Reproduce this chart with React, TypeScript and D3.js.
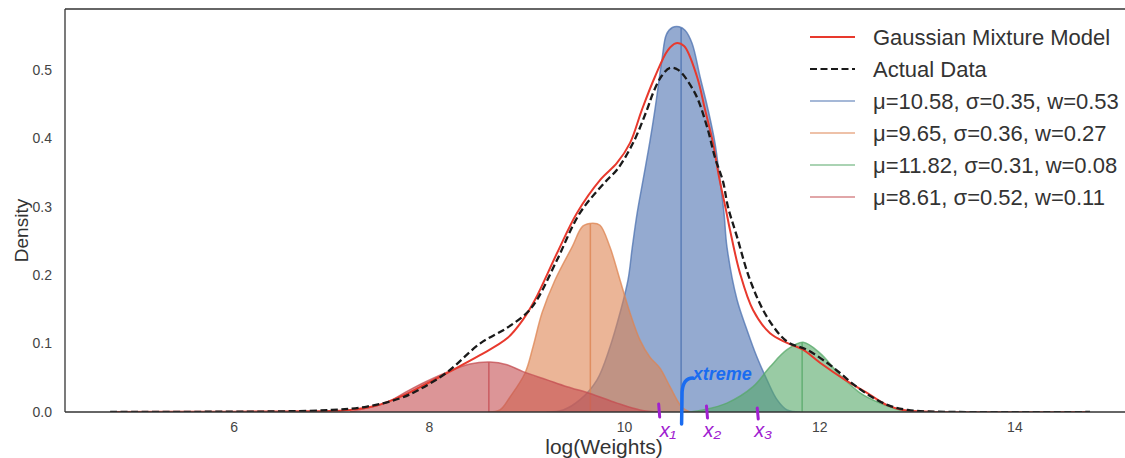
import React from "react";
import * as d3 from "d3";

// ---------- data ----------
const X_TICKS = [6, 8, 10, 12, 14];
const Y_TICKS = [0, 0.1, 0.2, 0.3, 0.4, 0.5];

const COMP_MU = [10.58, 9.65, 11.82, 8.61];
const COMP_SIGMA = [0.35, 0.36, 0.31, 0.52];
const COMP_W = [0.53, 0.27, 0.08, 0.11];
const COMP_COLORS = ["#4C72B0", "#DD8452", "#55A868", "#C44E52"];

// component density curves [logWeight, density]
const BLUE_COMP: [number, number][] = [
  [9.2, 0], [9.37, 0.003], [9.544, 0.018], [9.718, 0.047], [9.851, 0.095], [9.954, 0.145],
  [10.036, 0.193], [10.08, 0.241], [10.13, 0.291], [10.19, 0.339], [10.26, 0.395],
  [10.312, 0.442], [10.384, 0.515], [10.43, 0.552], [10.49, 0.562], [10.56, 0.563],
  [10.62, 0.558], [10.692, 0.539], [10.774, 0.49], [10.856, 0.442], [10.927, 0.393],
  [10.978, 0.339], [11.02, 0.29], [11.05, 0.241], [11.153, 0.164], [11.255, 0.12],
  [11.358, 0.08], [11.46, 0.047], [11.563, 0.018], [11.665, 0.003], [11.8, 0],
];
const ORANGE_COMP: [number, number][] = [
  [8.6, 0], [8.724, 0.003], [8.827, 0.022], [8.981, 0.057], [9.062, 0.095], [9.155, 0.145],
  [9.288, 0.193], [9.462, 0.241], [9.575, 0.272], [9.677, 0.276], [9.749, 0.273],
  [9.851, 0.241], [9.954, 0.193], [10.056, 0.145], [10.159, 0.105], [10.261, 0.08],
  [10.364, 0.064], [10.466, 0.037], [10.589, 0.007], [10.67, 0],
];
const GREEN_COMP: [number, number][] = [
  [10.67, 0], [10.804, 0.003], [11.05, 0.013], [11.317, 0.037], [11.491, 0.066],
  [11.665, 0.091], [11.829, 0.102], [12.003, 0.086], [12.208, 0.054], [12.413, 0.028],
  [12.618, 0.013], [12.823, 0.003], [12.977, 0],
];
const RED_COMP: [number, number][] = [
  [7.188, 0], [7.362, 0.006], [7.55, 0.013], [7.833, 0.035], [8.181, 0.058], [8.416, 0.07],
  [8.622, 0.073], [8.796, 0.069], [8.96, 0.059], [9.206, 0.047], [9.411, 0.037],
  [9.647, 0.027], [9.923, 0.013], [10.159, 0.003], [10.36, 0],
];
const COMP_CURVES = [BLUE_COMP, ORANGE_COMP, GREEN_COMP, RED_COMP];

// total mixture-model density
const GMM_LINE: [number, number][] = [
  [4.73, 0], [6.0, 0.0005], [6.675, 0.001], [7.188, 0.003], [7.45, 0.009], [7.7, 0.022],
  [7.9, 0.036], [8.181, 0.057], [8.519, 0.083], [8.8, 0.108],
  [8.96, 0.135], [9.083, 0.164], [9.308, 0.232], [9.513, 0.291], [9.749, 0.339],
  [9.923, 0.364], [10.056, 0.393], [10.179, 0.442], [10.312, 0.49], [10.445, 0.529],
  [10.528, 0.539], [10.61, 0.535], [10.743, 0.49], [10.825, 0.442], [10.907, 0.393],
  [10.968, 0.344], [11.04, 0.295], [11.081, 0.266], [11.183, 0.203], [11.317, 0.149],
  [11.491, 0.115], [11.665, 0.101], [11.829, 0.091], [12.003, 0.072], [12.26, 0.047],
  [12.485, 0.028], [12.69, 0.01], [12.854, 0.003], [13.13, 0.0005], [14.77, 0],
];
// actual data density
const ACTUAL_LINE: [number, number][] = [
  [4.73, 0], [6.0, 0.0005], [6.5, 0.001], [7.0, 0.003], [7.362, 0.008], [7.7, 0.02],
  [7.9, 0.033], [8.181, 0.058], [8.519, 0.1], [8.796, 0.123], [9.0, 0.145],
  [9.103, 0.164], [9.308, 0.222], [9.544, 0.291], [9.821, 0.339], [9.923, 0.354],
  [10.087, 0.393], [10.231, 0.442], [10.292, 0.466], [10.38, 0.491], [10.466, 0.503],
  [10.55, 0.5], [10.722, 0.466], [10.845, 0.417], [10.927, 0.372], [11.009, 0.337],
  [11.06, 0.3], [11.153, 0.256], [11.286, 0.193], [11.46, 0.139], [11.665, 0.103],
  [11.87, 0.091], [12.075, 0.072], [12.208, 0.057], [12.35, 0.04], [12.5, 0.025],
  [12.7, 0.01], [12.9, 0.003], [13.2, 0.0005], [14.77, 0],
];

const LEGEND_GMM = "Gaussian Mixture Model";
const LEGEND_ACTUAL = "Actual Data";
const X_LABEL = "log(Weights)";
const Y_LABEL = "Density";
const ANNOT_X = ["x₁", "x₂", "x₃"];
const ANNOT_X_VALUES = [10.35, 10.84, 11.36];
const ANNOT_BLUE = "xtreme";

// ---------- layout ----------
const W = 1125;
const H = 458;
const LEFT = 65;
const RIGHT = 1132;
const TOP = 9;
const BOTTOM = 412;
const FONT = "'Liberation Sans', Arial, Helvetica, sans-serif";

function interpAt(curve: [number, number][], x: number) {
  for (let i = 0; i < curve.length - 1; i++) {
    const [x0, y0] = curve[i];
    const [x1, y1] = curve[i + 1];
    if (x >= x0 && x <= x1) return y0 + ((y1 - y0) * (x - x0)) / (x1 - x0);
  }
  return 0;
}

export default function App() {
  const x = d3.scaleLinear().domain([4.267, 15.2]).range([LEFT, RIGHT]);
  const y = d3.scaleLinear().domain([0, 0.589]).range([BOTTOM, TOP]);

  const curve = d3.curveCatmullRom.alpha(0.5);
  const line = d3
    .line<[number, number]>()
    .x((d) => x(d[0]))
    .y((d) => Math.min(y(d[1]), BOTTOM))
    .curve(curve);
  const area = d3
    .area<[number, number]>()
    .x((d) => x(d[0]))
    .y0(y(0))
    .y1((d) => y(d[1]))
    .curve(curve);

  const labels = COMP_MU.map(
    (m, i) =>
      `μ=${m.toFixed(2)}, σ=${COMP_SIGMA[i].toFixed(2)}, w=${COMP_W[i].toFixed(2)}`
  );

  const legendRows = [
    { label: LEGEND_GMM, color: "#e8392d", dash: undefined as string | undefined, op: 1 },
    { label: LEGEND_ACTUAL, color: "#1a1a1a", dash: "7,3.5", op: 1 },
    ...labels.map((l, i) => ({ label: l, color: COMP_COLORS[i], dash: undefined, op: 0.5 })),
  ];

  return (
    <svg
      width={W}
      height={H}
      style={{ position: "fixed", left: 0, top: 0, background: "#fff" }}
      fontFamily={FONT}
    >
      <defs>
        <clipPath id="plot">
          <rect x={LEFT} y={TOP} width={RIGHT - LEFT} height={BOTTOM - TOP} />
        </clipPath>
      </defs>
      <rect x={0} y={0} width={W} height={H} fill="#fff" />

      <g clipPath="url(#plot)">
        {COMP_CURVES.map((c, i) => (
          <g key={i}>
            <path d={area(c) || ""} fill={COMP_COLORS[i]} fillOpacity={0.6} stroke="none" />
            <path
              d={line(c) || ""}
              fill="none"
              stroke={COMP_COLORS[i]}
              strokeOpacity={0.75}
              strokeWidth={1.5}
            />
            <line
              x1={x(COMP_MU[i])}
              x2={x(COMP_MU[i])}
              y1={y(0)}
              y2={y(interpAt(c, COMP_MU[i]))}
              stroke={COMP_COLORS[i]}
              strokeOpacity={0.8}
              strokeWidth={1.5}
            />
          </g>
        ))}
        <path d={line(GMM_LINE) || ""} fill="none" stroke="#e8392d" strokeWidth={2} />
        <path
          d={line(ACTUAL_LINE) || ""}
          fill="none"
          stroke="#1a1a1a"
          strokeWidth={2.3}
          strokeDasharray="7,3.5"
        />
      </g>

      {/* spines */}
      <line x1={LEFT} x2={LEFT} y1={TOP} y2={BOTTOM} stroke="#333" strokeWidth={1.3} />
      <line x1={LEFT} x2={RIGHT} y1={BOTTOM} y2={BOTTOM} stroke="#333" strokeWidth={1.3} />
      <line x1={LEFT} x2={RIGHT} y1={TOP} y2={TOP} stroke="#333" strokeWidth={1.3} />
      <line x1={RIGHT} x2={RIGHT} y1={TOP} y2={BOTTOM} stroke="#333" strokeWidth={1.3} />

      {/* ticks */}
      {X_TICKS.map((t) => (
        <text key={t} x={x(t)} y={432} textAnchor="middle" fontSize={14} fill="#444">
          {t}
        </text>
      ))}
      {Y_TICKS.map((t) => (
        <text key={t} x={52} y={y(t)} dy="0.35em" textAnchor="end" fontSize={14} fill="#444">
          {t.toFixed(1)}
        </text>
      ))}

      {/* axis labels */}
      <text x={604} y={454} textAnchor="middle" fontSize={21} fill="#333">
        {X_LABEL}
      </text>
      <text
        transform={`translate(28, ${(TOP + BOTTOM) / 2 + 20}) rotate(-90)`}
        textAnchor="middle"
        fontSize={19}
        fill="#333"
      >
        {Y_LABEL}
      </text>

      {/* legend */}
      {legendRows.map((r, i) => {
        const cy = 37 + i * 32;
        return (
          <g key={i}>
            <line
              x1={810}
              x2={855}
              y1={cy}
              y2={cy}
              stroke={r.color}
              strokeOpacity={r.op}
              strokeWidth={2.2}
              strokeDasharray={r.dash}
            />
            <text x={873} y={cy} dy="0.36em" fontSize={22} fill="#333">
              {r.label}
            </text>
          </g>
        );
      })}

      {/* hand-drawn annotations */}
      {ANNOT_X.map((s, i) => {
        const px = x(ANNOT_X_VALUES[i]);
        return (
          <g key={s}>
            <line
              x1={px}
              x2={px + 1}
              y1={404 + i * 2}
              y2={417 + i}
              stroke="#a020d0"
              strokeWidth={3}
              strokeLinecap="round"
            />
            <text x={px + (i === 0 ? 1 : -3)} y={437} fontSize={20} fill="#a020d0" fontStyle="italic">
              {s}
            </text>
          </g>
        );
      })}
      <path
        d={`M${x(10.585)},424 L${x(10.59)},392 Q${x(10.6)},378 ${x(10.7)},378`}
        fill="none"
        stroke="#1a6cf0"
        strokeWidth={3.5}
        strokeLinecap="round"
      />
      <text x={x(10.7)} y={380} fontSize={18} fill="#1a6cf0" fontStyle="italic" fontWeight="bold">
        {ANNOT_BLUE}
      </text>
    </svg>
  );
}
